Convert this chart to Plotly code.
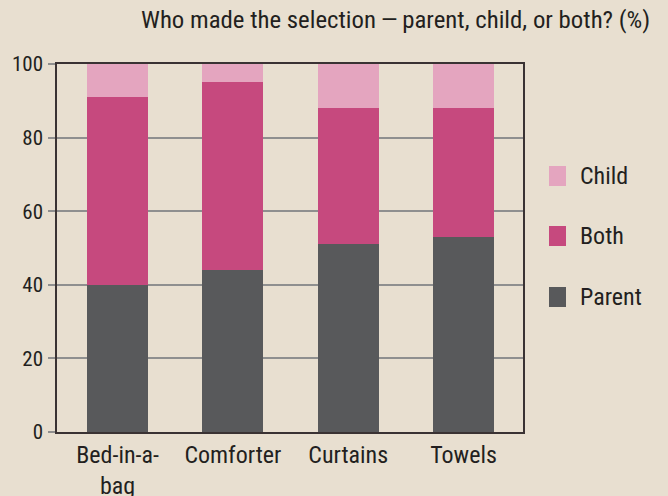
import plotly.graph_objects as go

categories = ["Bed-in-a-<br>bag", "Comforter", "Curtains", "Towels"]
parent = [40, 44, 51, 53]
both = [51, 51, 37, 35]
child = [9, 5, 12, 12]
y_ticks = [0, 20, 40, 60, 80, 100]
series_names = ["Parent", "Both", "Child"]
series_colors = ["#58595b", "#c6497e", "#e4a5bf"]
title_text = "Who made the selection\u2009\u2014\u2009parent, child, or both? (%)"

FONT = "Roboto Condensed, Liberation Sans Narrow, Roboto, sans-serif"
BG = "#e8dfd0"
TXT = "#231f20"
FS = 24
W, H = 668, 496
ML, MR, MT, MB = 57, 145, 64, 64
PW, PH = W - ML - MR, H - MT - MB


def px_x(x):
    return (x - ML) / PW


def px_y(y):
    return (H - MB - y) / PH


fig = go.Figure()
for name, vals, col in zip(series_names, [parent, both, child], series_colors):
    fig.add_trace(go.Bar(x=categories, y=vals, name=name, marker_color=col,
                         marker_line_width=0, showlegend=False))

# legend drawn manually (Child on top, Parent at bottom)
shapes, annos = [], []
legend_y = [297, 236, 176]
for name, col, yc in zip(series_names, series_colors, legend_y):
    shapes.append(dict(type="rect", xref="paper", yref="paper",
                       x0=px_x(549), x1=px_x(566), y0=px_y(yc + 10), y1=px_y(yc - 10),
                       fillcolor=col, line_width=0))
    annos.append(dict(text=name, xref="paper", yref="paper", x=px_x(578), y=px_y(yc),
                      xanchor="left", yanchor="middle", showarrow=False,
                      font=dict(size=FS, color=TXT)))
annos.append(dict(text=title_text, xref="paper", yref="paper", x=px_x(652), y=px_y(19),
                  xanchor="right", yanchor="middle", showarrow=False,
                  font=dict(size=24.8, color=TXT)))

fig.update_layout(
    barmode="stack",
    bargap=0.471,
    width=W, height=H,
    paper_bgcolor=BG, plot_bgcolor=BG,
    margin=dict(l=ML, r=MR, t=MT, b=MB, autoexpand=False),
    font=dict(family=FONT, size=FS, color=TXT),
    showlegend=False,
    shapes=shapes,
    annotations=annos,
)
fig.update_xaxes(range=[-0.525, 3.516], showline=True, linecolor="#3a3233", linewidth=1.5,
                 mirror=True, ticks="", tickfont=dict(size=FS), automargin=False,
                 ticklabelstandoff=0)
fig.update_yaxes(range=[0, 100], tickvals=y_ticks, showline=True, linecolor="#3a3233",
                 linewidth=1.5, mirror=True, ticks="outside", ticklen=7, tickcolor="#8f8f8f",
                 tickwidth=1.5, showgrid=True, gridcolor="#8f8f8f", gridwidth=1.5,
                 zeroline=False, tickfont=dict(size=21), ticklabelstandoff=1, automargin=False)

fig.write_html("out.html", config={"displayModeBar": False},
               post_script="document.body.style.margin='0';"
                           "document.body.style.background='#e8dfd0';")
